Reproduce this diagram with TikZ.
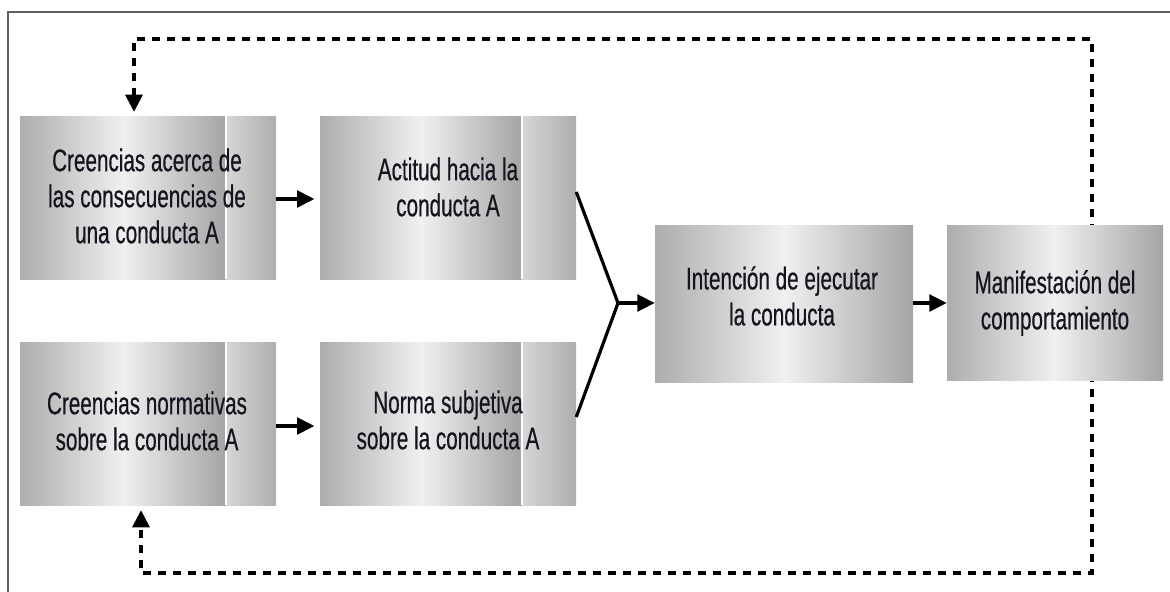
\documentclass[tikz,border=0pt]{standalone}
\usepackage{fontspec}
\setmainfont{Liberation Sans}[FakeStretch=0.66,FakeBold=0.5]
\usetikzlibrary{arrows.meta}
\definecolor{txtc}{HTML}{15151F}
\definecolor{gedge}{HTML}{ADADAD}
\definecolor{glight}{HTML}{F0F0F0}
\definecolor{gstripL}{HTML}{D6D6D6}
\definecolor{gstripR}{HTML}{AEAEAE}
\begin{document}
\begin{tikzpicture}[x=0.75pt,y=-0.75pt,
  boxnode/.style={draw=none,inner sep=0pt},
  txt/.style={text=txtc,font=\fontsize{23.5}{27}\selectfont,align=center,inner sep=0pt},
  mainshade/.style={left color=gedge,right color=gedge!95!black,middle color=glight},
  stripshade/.style={left color=gstripL,right color=gstripR},
  arr/.style={line width=2.5pt,-{Triangle[length=13pt,width=12.5pt]},shorten >=4pt},
  joinline/.style={line width=2.4pt},
  loopline/.style={line width=3pt,dash pattern=on 6pt off 5.25pt,
     {Triangle[length=13pt,width=12.5pt]}-{Triangle[length=13pt,width=12.5pt]}},
  frameline/.style={line width=1.6pt,draw=gray!75!black}]
\useasboundingbox (0,0) rectangle (1170,592);
% frame
\draw[frameline] (8,592) -- (8,12) -- (1170,12);
% feedback loop (behind boxes)
\coordinate (t1) at (134,112);
\coordinate (t2) at (141,510);
\draw[loopline] (t1) -- (134,39) -- (1092,39) -- (1092,573) -- (141,573) -- (t2);
% box shadings
\shade[mainshade] (20,116) rectangle (226,279);
\shade[stripshade] (226,116) rectangle (276,279);
\draw[white,line width=1.2pt] (226,116) -- (226,279);
\shade[mainshade] (320,116) rectangle (522,279);
\shade[stripshade] (522,116) rectangle (576,279);
\draw[white,line width=1.2pt] (522,116) -- (522,279);
\shade[mainshade] (20,342) rectangle (226,505);
\shade[stripshade] (226,342) rectangle (276,505);
\draw[white,line width=1.2pt] (226,342) -- (226,505);
\shade[mainshade] (320,342) rectangle (522,505);
\shade[stripshade] (522,342) rectangle (576,505);
\draw[white,line width=1.2pt] (522,342) -- (522,505);
\shade[mainshade] (655,225) rectangle (913,382);
\shade[mainshade] (947,225) rectangle (1163,380);
% box nodes
\node[boxnode,minimum width=192pt,minimum height=122.25pt] (b1) at (148,197.5) {};
\node[boxnode,minimum width=192pt,minimum height=122.25pt] (b2) at (448,197.5) {};
\node[boxnode,minimum width=192pt,minimum height=122.25pt] (b3) at (148,423.5) {};
\node[boxnode,minimum width=192pt,minimum height=122.25pt] (b4) at (448,423.5) {};
\node[boxnode,minimum width=193.5pt,minimum height=117.75pt] (b5) at (784,303.5) {};
\node[boxnode,minimum width=162pt,minimum height=116.25pt] (b6) at (1055,302.5) {};
% texts
\node[txt] (l1) at (147,196) {Creencias acerca de\\las consecuencias de\\una conducta A};
\node[txt] (l2) at (448,187) {Actitud hacia la\\conducta A};
\node[txt] (l3) at (147,421) {Creencias normativas\\sobre la conducta A};
\node[txt] (l4) at (448,420) {Norma subjetiva\\sobre la conducta A};
\node[txt] (l5) at (782,296) {Intención de ejecutar\\la conducta};
\node[txt] (l6) at (1055,303) {Manifestación del\\comportamiento};
% connectors
\coordinate (j) at (618,303);
\draw[arr] (b1.east |- 0,199) -- (b2.west |- 0,199);
\draw[arr] (b3.east |- 0,426) -- (b4.west |- 0,426);
\draw[joinline] (b2.east |- 0,192) -- (j) -- (b4.east |- 0,417);
\draw[arr,shorten >=0pt] (j) -- (b5.west |- j);
\draw[arr,shorten >=0pt] (b5.east |- j) -- (b6.west |- j);
\end{tikzpicture}
\end{document}
